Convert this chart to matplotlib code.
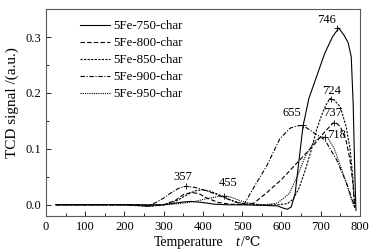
import matplotlib
matplotlib.use('Agg')
import matplotlib.pyplot as plt
from matplotlib.ticker import MultipleLocator

# TPR profiles (temperature in C, TCD signal in a.u.)
T_750 = [25, 100, 200, 250, 300, 330, 350, 370, 400, 430, 460, 500, 550, 590, 605, 615,
         625, 635, 645, 655, 670, 690, 710, 730, 746, 760, 770, 778, 783, 787, 790]
S_750 = [0, 0, 0, 0, 0, 0.003, 0.005, 0.006, 0.004, 0.001, 0, 0, -0.001, -0.002, -0.006, -0.008,
         -0.004, 0.02, 0.08, 0.14, 0.19, 0.23, 0.27, 0.3, 0.316, 0.303, 0.29, 0.265, 0.18, 0.06, -0.01]

T_800 = [25, 100, 200, 260, 300, 330, 350, 370, 390, 410, 440, 470, 500, 530, 560, 600,
         640, 680, 710, 730, 737, 750, 765, 775, 782, 787]
S_800 = [0, 0, 0, -0.002, 0, 0.008, 0.018, 0.022, 0.02, 0.012, 0.004, 0.001, 0, 0.003, 0.02, 0.045,
         0.075, 0.105, 0.13, 0.145, 0.148, 0.14, 0.115, 0.08, 0.04, -0.005]

T_850 = [25, 100, 200, 260, 300, 330, 360, 380, 400, 420, 450, 480, 510, 550, 590, 615,
         630, 645, 660, 675, 690, 705, 715, 724, 735, 750, 765, 775, 782, 787]
S_850 = [0, 0, 0, -0.003, 0, 0.006, 0.018, 0.025, 0.027, 0.024, 0.015, 0.006, 0.001, 0, 0, 0.002,
         0.01, 0.03, 0.06, 0.095, 0.135, 0.165, 0.18, 0.19, 0.187, 0.175, 0.14, 0.1, 0.05, -0.005]

T_900 = [25, 100, 200, 240, 260, 280, 300, 320, 340, 357, 380, 400, 430, 460, 490, 505,
         533, 563, 596, 622, 640, 655, 680, 711, 741, 766, 787]
S_900 = [0, 0, 0, 0, -0.002, 0.004, 0.012, 0.022, 0.03, 0.033, 0.031, 0.027, 0.02, 0.011, 0.003, 0.001,
         0.035, 0.07, 0.118, 0.137, 0.141, 0.142, 0.13, 0.116, 0.08, 0.039, -0.004]

T_950 = [25, 100, 200, 260, 300, 340, 380, 410, 440, 455, 470, 500, 530, 560, 590, 620,
         640, 660, 680, 700, 718, 735, 750, 765, 778, 787]
S_950 = [0, 0, 0, -0.002, 0, 0.002, 0.006, 0.011, 0.015, 0.016, 0.014, 0.006, 0.001, 0, 0.003, 0.02,
         0.05, 0.085, 0.11, 0.122, 0.12, 0.1, 0.07, 0.04, 0.01, -0.005]

LABELS = ['5Fe-750-char', '5Fe-800-char', '5Fe-850-char', '5Fe-900-char', '5Fe-950-char']

# peak annotations: (marker T, marker y, text T, text y, text)
PEAKS = [(357, 0.033, 350, 0.05, '357'),
         (455, 0.016, 465, 0.039, '455'),
         (655, 0.142, 627, 0.164, '655'),
         (741, 0.316, 716, 0.33, '746'),
         (726, 0.19, 728, 0.204, '724'),
         (735, 0.147, 731, 0.164, '737'),
         (711, 0.121, 741, 0.125, '718')]

plt.rcParams['font.family'] = ['Liberation Serif', 'DejaVu Serif']
plt.rcParams['font.size'] = 9

fig = plt.figure(figsize=(3.8, 2.52), dpi=100)
ax = fig.add_axes([0.121, 0.143, 0.826, 0.821])

lw = 0.8
ax.plot(T_750, S_750, color='k', lw=lw, ls='-', label=LABELS[0])
ax.plot(T_800, S_800, color='k', lw=lw, ls=(0, (4, 2)), label=LABELS[1])
ax.plot(T_850, S_850, color='k', lw=lw, ls=(0, (2, 1.2)), label=LABELS[2])
ax.plot(T_900, S_900, color='k', lw=lw, ls=(0, (4, 1.5, 1, 1.5)), label=LABELS[3])
ax.plot(T_950, S_950, color='k', lw=lw, ls=(0, (1, 1)), label=LABELS[4])

for mx, my, tx, ty, txt in PEAKS:
    ax.plot([mx], [my], marker='+', color='k', ms=4, mew=0.6)
    ax.text(tx, ty, txt, ha='center', va='center', fontsize=9)

ax.set_xlim(0, 800)
ax.set_ylim(-0.02, 0.35)
ax.xaxis.set_major_locator(MultipleLocator(100))
ax.xaxis.set_minor_locator(MultipleLocator(50))
ax.set_yticks([0.0, 0.1, 0.2, 0.3])
ax.yaxis.set_minor_locator(MultipleLocator(0.05))
ax.tick_params(which='both', direction='in', labelsize=9, width=0.6)
ax.tick_params(which='major', length=3.5)
ax.tick_params(which='minor', length=2)
for sp in ax.spines.values():
    sp.set_linewidth(0.8)
    sp.set_color('0.35')

ax.set_ylabel('TCD signal /(a.u.)', fontsize=11)
ax.yaxis.set_label_coords(-0.085, 0.55)

fig.text(0.497, 0.036, 'Temperature', ha='center', va='center', fontsize=10)
fig.text(0.624, 0.036, 't', ha='center', va='center', fontsize=10, style='italic')
fig.text(0.634, 0.036, '/℃', ha='left', va='center', fontsize=10)

ax.legend(loc='upper left', bbox_to_anchor=(0.108, 0.945), frameon=False, fontsize=9.3,
          handlelength=2.3, handletextpad=0.25, labelspacing=0.38, borderaxespad=0, borderpad=0)

fig.savefig('out.png', dpi=100)
